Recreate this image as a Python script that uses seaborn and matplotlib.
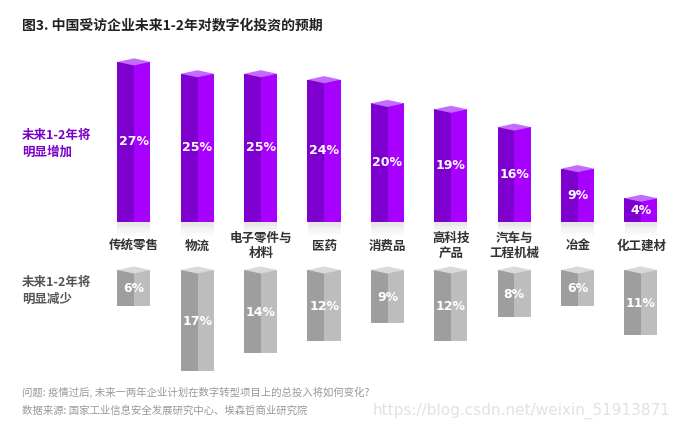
import numpy as np
import pandas as pd
import matplotlib
matplotlib.use("Agg")
import matplotlib.pyplot as plt
from matplotlib.patches import Polygon
import seaborn as sns

# ---------------------------------------------------------------
# Dati
# ---------------------------------------------------------------
categorie = ["传统零售", "物流", "电子零件与\n材料", "医药", "消费品",
             "高科技\n产品", "汽车与\n工程机械", "冶金", "化工建材"]
aumento = [27, 25, 25, 24, 20, 19, 16, 9, 4]
riduzione = [6, 17, 14, 12, 9, 12, 8, 6, 11]

titolo = "图3. 中国受访企业未来1-2年对数字化投资的预期"
etichetta_su = "未来1-2年将\n明显增加"
etichetta_giu = "未来1-2年将\n明显减少"
nota1 = "问题: 疫情过后, 未来一两年企业计划在数字转型项目上的总投入将如何变化?"
nota2 = "数据来源: 国家工业信息安全发展研究中心、埃森哲商业研究院"
filigrana = "https://blog.csdn.net/weixin_51913871"

# colori delle facce
viola_scuro, viola_chiaro, viola_top = "#7E00CF", "#A800FF", "#C46CFF"
grigio_scuro, grigio_chiaro, grigio_top = "#9E9E9E", "#BDBDBD", "#D9D9D9"

sns.set_style("white")
plt.rcParams["font.family"] = ["Noto Sans CJK SC", "DejaVu Sans"]

W, H = 678, 434
fig = plt.figure(figsize=(W / 100, H / 100), dpi=100)

px_per = 5.93          # pixel per punto percentuale
x0_px, dx_px = 134, 63.4
xlim = (-x0_px / dx_px, 8 + (W - 641) / dx_px)
larg = 0.52
d = 0.6                # profondita' della faccia superiore

base_su = 222          # base delle barre viola (pixel dall'alto)
top_giu = 270          # cima delle barre grigie

ax_su = fig.add_axes([0, (H - base_su) / H, 1, base_su / H])
ax_giu = fig.add_axes([0, 0, 1, (H - top_giu) / H])

df = pd.DataFrame({"cat": categorie, "su": aumento, "giu": riduzione})
pos = np.arange(len(categorie))

# --- barre viola (aumento) ---
sns.barplot(data=df, x="cat", y="su", color=viola_chiaro, width=larg,
            saturation=1, ax=ax_su, edgecolor="none", linewidth=0)
ax_su.bar(pos - larg / 4, df["su"], width=larg / 2 + 0.005, color=viola_scuro,
          linewidth=0, zorder=3)
# riflesso sotto le barre (sfumato)
for k, a in enumerate([0.09, 0.06, 0.035, 0.015]):
    ax_su.bar(pos, [-0.6] * len(pos), bottom=-0.6 * k, width=larg, color="black",
              alpha=a, linewidth=0, clip_on=False, zorder=1)
for i, v in enumerate(aumento):
    ax_su.add_patch(Polygon([(i - larg / 2, v), (i, v - d), (i + larg / 2, v), (i, v + d)],
                            closed=True, color=viola_top, lw=0, zorder=4, clip_on=False))
    ax_su.text(i, v / 2, f"{v}%", color="white", ha="center", va="center",
               fontsize=9, fontweight="bold", zorder=5, family="DejaVu Sans")
ax_su.set_xlim(*xlim)
ax_su.set_ylim(0, base_su / px_per)

# --- barre grigie (riduzione) ---
sns.barplot(data=df, x="cat", y="giu", color=grigio_chiaro, width=larg,
            saturation=1, ax=ax_giu, edgecolor="none", linewidth=0)
ax_giu.bar(pos - larg / 4, df["giu"], width=larg / 2 + 0.005, color=grigio_scuro,
           linewidth=0, zorder=3)
for i, v in enumerate(riduzione):
    ax_giu.add_patch(Polygon([(i - larg / 2, 0), (i, d), (i + larg / 2, 0), (i, -d)],
                             closed=True, color=grigio_top, lw=0, zorder=4, clip_on=False))
    ax_giu.text(i, v / 2 + 0.2, f"{v}%", color="white", ha="center", va="center",
                fontsize=9, fontweight="bold", zorder=5, family="DejaVu Sans")
ax_giu.set_xlim(*xlim)
ax_giu.set_ylim((H - top_giu) / px_per, 0)

for ax in (ax_su, ax_giu):
    ax.axis("off")

# etichette delle categorie tra i due gruppi
for i, c in enumerate(categorie):
    fig.text((x0_px + i * dx_px) / W, 1 - 246 / H, c, ha="center", va="center",
             fontsize=9, fontweight="bold", color="#333333", linespacing=1.25)

fig.text(22 / W, 1 - 25 / H, titolo, ha="left", va="center", fontsize=10,
         fontweight="bold", color="#222222")
fig.text(22 / W, 1 - 144 / H, etichetta_su, ha="left", va="center", fontsize=9,
         fontweight="bold", color="#7B00C8", linespacing=1.4)
fig.text(22 / W, 1 - 291 / H, etichetta_giu, ha="left", va="center", fontsize=9,
         fontweight="bold", color="#555555", linespacing=1.4)
fig.text(22 / W, 1 - 392 / H, nota1, ha="left", va="center", fontsize=7.5, color="#999999")
fig.text(22 / W, 1 - 411 / H, nota2, ha="left", va="center", fontsize=7.5, color="#999999")
fig.text(670 / W, 1 - 411 / H, filigrana, ha="right", va="center", fontsize=11,
         color="#E2E2E2", family=["Liberation Sans Narrow", "DejaVu Sans"])

fig.savefig("out.png", dpi=100)
